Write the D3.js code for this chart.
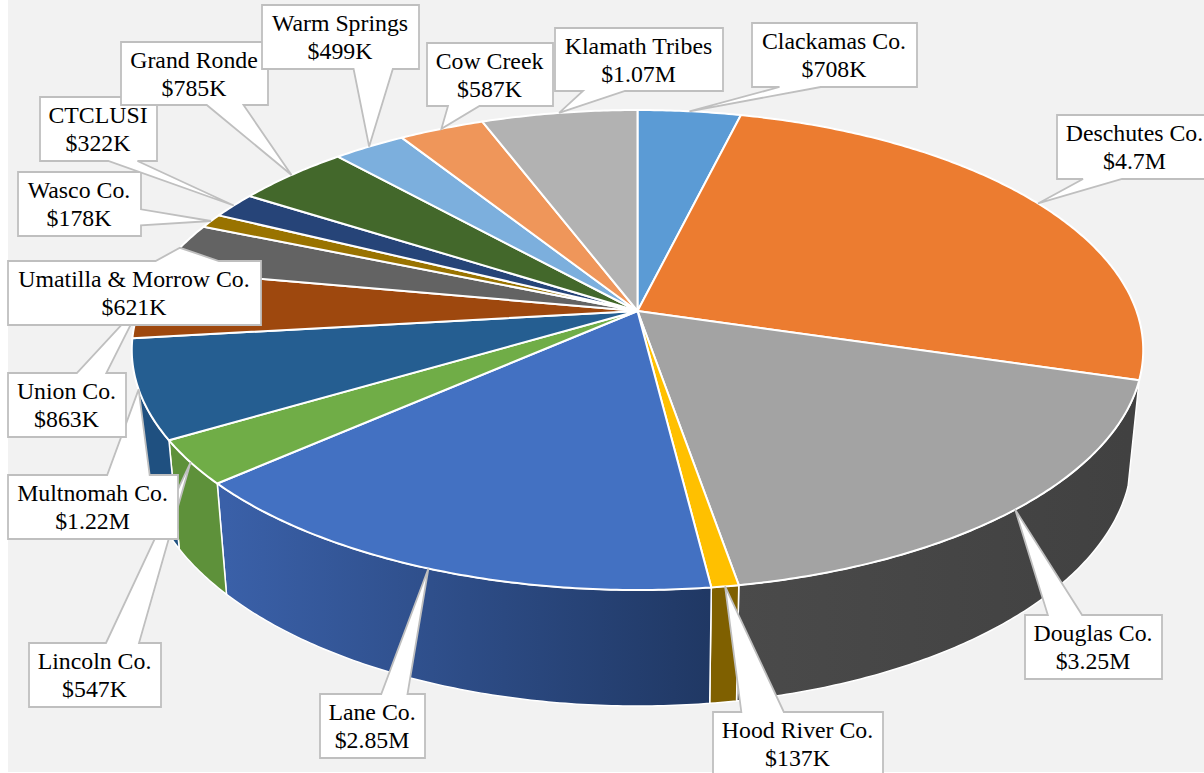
<!DOCTYPE html>
<html>
<head>
<meta charset="utf-8">
<style>
  html, body { margin: 0; padding: 0; background: #fff; }
  svg { display: block; }
  text { font-family: "Liberation Serif", serif; font-size: 23.8px; fill: #000; text-anchor: middle; }
</style>
<script src="https://cdn.jsdelivr.net/npm/d3@7"></script>
</head>
<body>
<div id="chart"></div>
<script>
// values in $K, clockwise from twelve o'clock
const names = ['Clackamas Co.', 'Deschutes Co.', 'Douglas Co.', 'Hood River Co.', 'Lane Co.',
  'Lincoln Co.', 'Multnomah Co.', 'Union Co.', 'Umatilla & Morrow Co.', 'Wasco Co.',
  'CTCLUSI', 'Grand Ronde', 'Warm Springs', 'Cow Creek', 'Klamath Tribes'];
const values = [708, 4720, 3250, 137, 2850, 547, 1220, 863, 621, 178, 322, 785, 499, 587, 1070];
const valueLabels = ['$708K', '$4.7M', '$3.25M', '$137K', '$2.85M', '$547K', '$1.22M', '$863K',
  '$621K', '$178K', '$322K', '$785K', '$499K', '$587K', '$1.07M'];
const topColors = ['#5B9BD5', '#EC7C30', '#A3A3A3', '#FFC000', '#4371C2', '#70AD47', '#255E91',
  '#9E480E', '#636363', '#997300', '#264478', '#43682B', '#7CAFDD', '#EF965A', '#B2B2B2'];

// wall shading [left, right], only the slices facing the viewer have a wall
const wallColors = {
  2: ['#4A4A4A', '#414141'],
  3: ['#7F6000', '#7F6000'],
  4: ['#3A60A8', '#203864'],
  5: ['#5E913A', '#5E913A'],
  6: ['#1F5080', '#1F5080']
};

// label boxes [left, top, right, bottom], same order as names
const labelBoxes = [
  [752, 23, 917, 87], [1057, 115, 1213, 179], [1025, 615, 1162, 679], [713, 712, 883, 776],
  [320, 694, 425, 758], [29, 643, 161, 707], [8, 475, 178, 539], [8, 373, 126, 437],
  [8, 261, 261, 325], [18, 172, 141, 236], [40, 97, 157, 161], [121, 42, 268, 105],
  [262, 5, 419, 69], [427, 43, 553, 106], [555, 28, 723, 91]
];

const width = 1204, height = 773;
const cx = 637.5;

// The disc is drawn in perspective, so rim points go through a projection
// of the unit circle instead of a plain ellipse. k is the perspective strength.
const k = 0.1625;
const topRim = { cy: 311, a: 233.66, b: 499 };
const bottomRim = { cy: 413.5, a: 245, b: 488 };

function rimPoint(rim, angle) {
  const u = Math.sin(angle), v = -Math.cos(angle);
  const s = 1 / (1 - k * v);
  return [cx + rim.b * u * s, rim.cy + rim.a * v * s];
}

function arcPoints(rim, a0, a1) {
  const n = Math.max(2, Math.ceil(Math.abs(a1 - a0) / 0.01));
  return d3.range(n + 1).map(i => rimPoint(rim, a0 + (a1 - a0) * i / n));
}

const pie = d3.pie().sort(null).startAngle(0).endAngle(2 * Math.PI);
const slices = pie(values);
const line = d3.line();

const svg = d3.select('#chart').append('svg')
  .attr('width', width)
  .attr('height', height);

svg.append('rect')
  .attr('x', 8).attr('y', 0)
  .attr('width', width - 8).attr('height', height - 1)
  .attr('fill', '#F2F2F2');

// -- walls -------------------------------------------------------------
const defs = svg.append('defs');
const wallSlices = slices.filter(d => wallColors[d.index]);

wallSlices.forEach(d => {
  const xs = arcPoints(bottomRim, d.startAngle, d.endAngle).map(p => p[0]);
  const grad = defs.append('linearGradient')
    .attr('id', 'wall-' + d.index)
    .attr('gradientUnits', 'userSpaceOnUse')
    .attr('x1', d3.min(xs)).attr('x2', d3.max(xs))
    .attr('y1', 0).attr('y2', 0);
  grad.append('stop').attr('offset', 0).attr('stop-color', wallColors[d.index][0]);
  grad.append('stop').attr('offset', 1).attr('stop-color', wallColors[d.index][1]);
});

svg.append('g').selectAll('path')
  .data(wallSlices)
  .join('path')
  .attr('d', d => line(arcPoints(topRim, d.startAngle, d.endAngle)
    .concat(arcPoints(bottomRim, d.endAngle, d.startAngle))) + 'Z')
  .attr('fill', d => `url(#wall-${d.index})`)
  .attr('stroke', '#fff')
  .attr('stroke-width', 1.5)
  .attr('stroke-linejoin', 'round');

// -- top surface -------------------------------------------------------
svg.append('g').selectAll('path')
  .data(slices)
  .join('path')
  .attr('d', d => line([[cx, topRim.cy]].concat(arcPoints(topRim, d.startAngle, d.endAngle))) + 'Z')
  .attr('fill', d => topColors[d.index])
  .attr('stroke', '#fff')
  .attr('stroke-width', 2)
  .attr('stroke-linejoin', 'round');

// -- data labels: rectangular callouts pointing at the slice's rim -------
function calloutPath(box, tip) {
  const [x0, y0, x1, y1] = box;
  const w = x1 - x0, h = y1 - y0;
  const dx = tip[0] - (x0 + x1) / 2, dy = tip[1] - (y0 + y1) / 2;
  const pts = [[x0, y0], [x1, y0], [x1, y1], [x0, y1]];
  const fx = dx < 0 ? [2 / 12, 5 / 12] : [7 / 12, 10 / 12];
  const fy = dy < 0 ? [2 / 12, 5 / 12] : [7 / 12, 10 / 12];
  let wedge, at;
  if (Math.abs(dy / h) > Math.abs(dx / w)) {
    if (dy < 0) {
      wedge = [[x0 + w * fx[0], y0], tip, [x0 + w * fx[1], y0]]; at = 1;
    } else {
      wedge = [[x0 + w * fx[1], y1], tip, [x0 + w * fx[0], y1]]; at = 3;
    }
  } else if (dx > 0) {
    wedge = [[x1, y0 + h * fy[0]], tip, [x1, y0 + h * fy[1]]]; at = 2;
  } else {
    wedge = [[x0, y0 + h * fy[1]], tip, [x0, y0 + h * fy[0]]]; at = 4;
  }
  pts.splice(at, 0, ...wedge);
  return line(pts) + 'Z';
}

const labels = svg.append('g').selectAll('g')
  .data(slices)
  .join('g');

labels.append('path')
  .attr('d', d => calloutPath(labelBoxes[d.index],
    rimPoint(topRim, (d.startAngle + d.endAngle) / 2)))
  .attr('fill', '#fff')
  .attr('stroke', '#BFBFBF')
  .attr('stroke-width', 1.8);

labels.append('text')
  .attr('x', d => (labelBoxes[d.index][0] + labelBoxes[d.index][2]) / 2 - 0.5)
  .attr('y', d => labelBoxes[d.index][1] + 26)
  .text(d => names[d.index]);

labels.append('text')
  .attr('x', d => (labelBoxes[d.index][0] + labelBoxes[d.index][2]) / 2 - 0.5)
  .attr('y', d => labelBoxes[d.index][1] + 54)
  .text(d => valueLabels[d.index]);
</script>
</body>
</html>
